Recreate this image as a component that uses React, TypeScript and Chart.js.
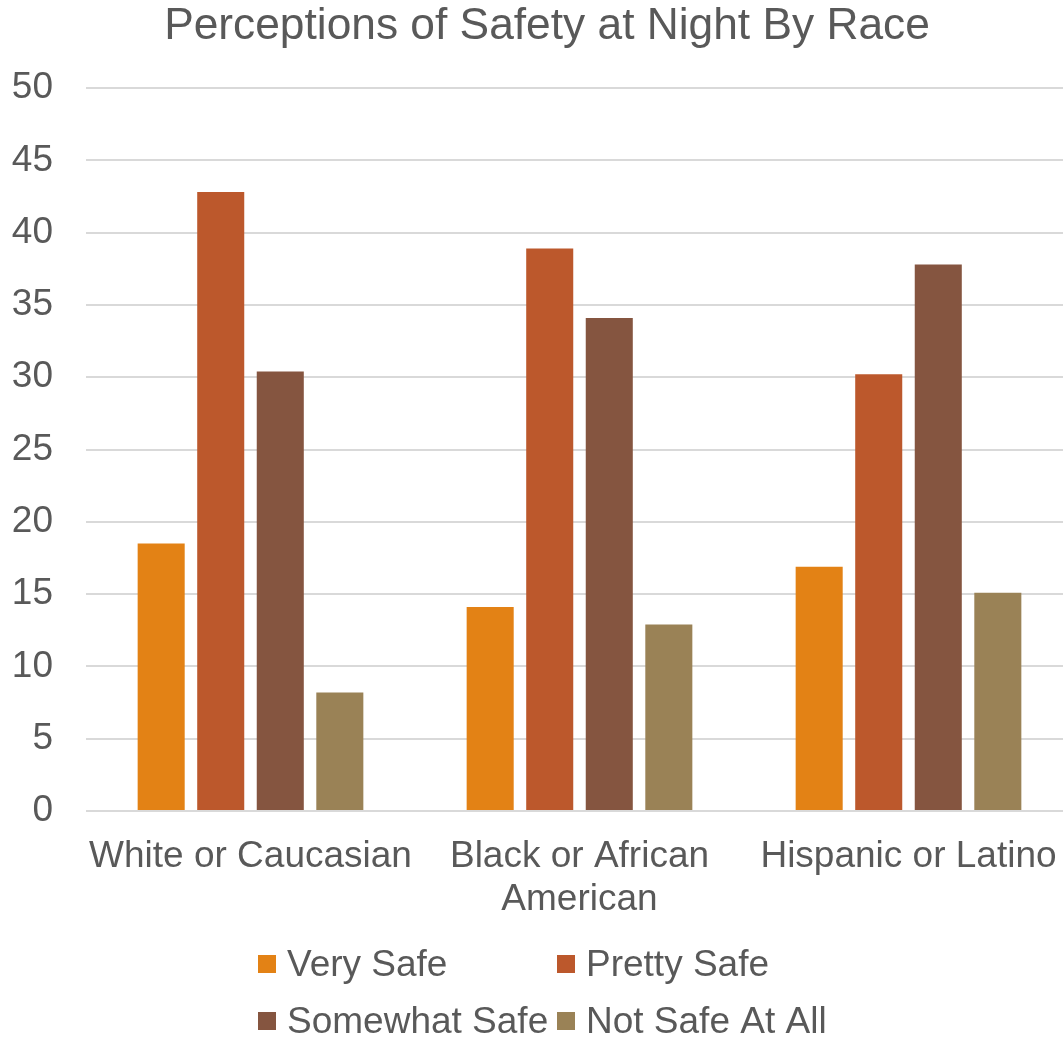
import React, { useEffect, useRef } from "react";
import { Chart, registerables } from "chart.js";

Chart.register(...registerables);

const categories: (string | string[])[] = [
  "White or Caucasian",
  ["Black or African", "American"],
  "Hispanic or Latino",
];
const seriesNames = ["Very Safe", "Pretty Safe", "Somewhat Safe", "Not Safe At All"];
const verySafe = [18.5, 14.1, 16.9];
const prettySafe = [42.8, 38.9, 30.2];
const somewhatSafe = [30.4, 34.1, 37.8];
const notSafeAtAll = [8.2, 12.9, 15.1];
const seriesColors = ["#E38215", "#BC582C", "#855540", "#9A8256"];
const titleText = "Perceptions of Safety at Night By Race";

const FONT = "'Liberation Sans', Arial, sans-serif";
const TEXT = "#595959";

const titlePlugin = {
  id: "customTitle",
  afterDraw(chart: any) {
    const ctx = chart.ctx;
    ctx.save();
    ctx.font = `44.3px ${FONT}`;
    ctx.fillStyle = TEXT;
    ctx.textAlign = "center";
    ctx.textBaseline = "alphabetic";
    ctx.fillText(titleText, 547, 39);
    ctx.restore();
  },
};

const legendPlugin = {
  id: "gridLegend",
  afterDraw(chart: any) {
    const ctx = chart.ctx;
    const cols = [258, 557];
    const rows = [964, 1021];
    const box = 18;
    ctx.save();
    ctx.font = `37px ${FONT}`;
    ctx.textBaseline = "middle";
    ctx.textAlign = "left";
    chart.data.datasets.forEach((ds: any, i: number) => {
      const x = cols[i % 2];
      const y = rows[Math.floor(i / 2)];
      ctx.fillStyle = ds.backgroundColor;
      ctx.fillRect(x, y - box / 2, box, box);
      ctx.fillStyle = TEXT;
      ctx.fillText(ds.label, x + box + 11, y + 2);
    });
    ctx.restore();
  },
};

export default function App() {
  const ref = useRef<HTMLCanvasElement>(null);
  useEffect(() => {
    if (!ref.current) return;
    const data = [verySafe, prettySafe, somewhatSafe, notSafeAtAll];
    const chart = new Chart(ref.current, {
      type: "bar",
      data: {
        labels: categories,
        datasets: seriesNames.map((name, i) => ({
          label: name,
          data: data[i],
          backgroundColor: seriesColors[i],
          borderWidth: 0,
          barPercentage: 0.79,
          categoryPercentage: 0.724,
        })),
      },
      options: {
        animation: false,
        responsive: false,
        maintainAspectRatio: false,
        layout: { padding: { left: 12, right: 0, top: 88, bottom: 0 } },
        plugins: {
          legend: { display: false },
          tooltip: { enabled: false },
          title: { display: false },
        },
        scales: {
          x: {
            afterFit: (s: any) => {
              s.height = 227;
            },
            grid: { display: false, drawTicks: true, tickLength: 24.5 },
            border: { display: false },
            ticks: {
              color: TEXT,
              font: { family: FONT, size: 37, lineHeight: 1.16 },
              padding: 0,
              maxRotation: 0,
              minRotation: 0,
              autoSkip: false,
            },
          },
          y: {
            min: 0,
            max: 50,
            afterFit: (s: any) => {
              s.width = 74;
            },
            grid: { color: "#d9d9d9", lineWidth: 2, drawTicks: false },
            border: { display: false },
            ticks: {
              stepSize: 5,
              color: TEXT,
              font: { family: FONT, size: 37 },
              padding: 33,
            },
          },
        },
      },
      plugins: [titlePlugin, legendPlugin],
    });
    return () => chart.destroy();
  }, []);
  return (
    <div
      style={{
        position: "absolute",
        left: 0,
        top: 0,
        width: 1063,
        height: 1038,
        overflow: "hidden",
        background: "#fff",
      }}
    >
      <canvas ref={ref} width={1073} height={1038} style={{ display: "block" }} />
    </div>
  );
}
